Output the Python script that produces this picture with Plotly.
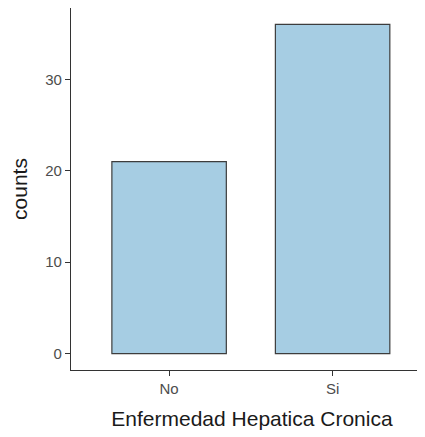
import plotly.graph_objects as go

categories = ["No", "Si"]
counts = [21, 36]
y_ticks = [0, 10, 20, 30]

fig = go.Figure()
fig.add_trace(go.Bar(
    x=categories, y=counts, width=0.7,
    marker=dict(color="#a6cde3", line=dict(color="#3d3d3d", width=1.2)),
))
fig.update_layout(
    width=425, height=437,
    margin=dict(l=63, r=0, t=0, b=75, autoexpand=False),
    plot_bgcolor="white", paper_bgcolor="white",
    font=dict(family="Liberation Sans, Arial, sans-serif"),
    showlegend=False,
)
fig.update_xaxes(
    range=[-0.6, 1.614], showline=True, linecolor="#333333", linewidth=1.2,
    ticks="outside", ticklen=5, tickcolor="#333333", tickwidth=1.2,
    tickfont=dict(size=15, color="#4d4d4d"), showgrid=False, zeroline=False,
    title=dict(text="Enfermedad Hepatica Cronica", font=dict(size=21, color="#1a1a1a"), standoff=15),
)
fig.update_yaxes(
    range=[-1.8, 37.8], tickvals=y_ticks, showline=True, linecolor="#333333", linewidth=1.2,
    ticks="outside", ticklen=5, tickcolor="#333333", tickwidth=1.2,
    tickfont=dict(size=15, color="#4d4d4d"), showgrid=False, zeroline=False,
    title=dict(text="counts", font=dict(size=21, color="#1a1a1a"), standoff=13),
)
fig.write_html("out.html")
